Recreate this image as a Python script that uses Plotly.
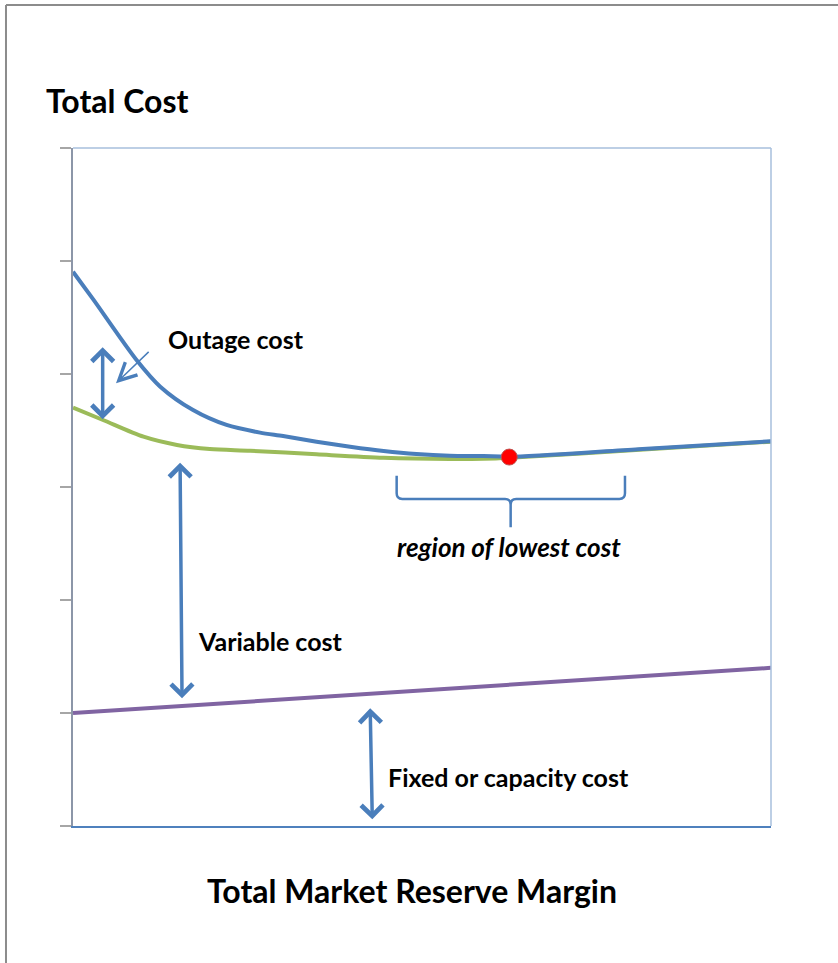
import plotly.graph_objects as go

# reserve margin (0-100 across the plot) and cost levels (0-6 on the y axis)
total_x = [0, 2.9, 9.1, 12.5, 17.2, 22.0, 26.8, 30.1, 34.9, 39.7, 44.5, 49.2,
           54.0, 58.8, 62.5, 81.0, 100]
total_y = [4.905, 4.66, 4.124, 3.888, 3.681, 3.549, 3.481, 3.451, 3.401, 3.357,
           3.319, 3.292, 3.277, 3.274, 3.268, 3.335, 3.405]

variable_x = [0, 4.3, 10.1, 14.9, 19.6, 25.4, 34.9, 44.5, 54.0, 58.8, 62.6,
              81.2, 100]
variable_y = [3.702, 3.593, 3.445, 3.372, 3.336, 3.321, 3.289, 3.259, 3.248,
              3.250, 3.259, 3.330, 3.401]

fixed_x = [0, 100]
fixed_y = [1.0, 1.40]

optimum_x = [62.5]
optimum_y = [3.265]

y_ticks = [0, 1, 2, 3, 4, 5, 6]

_BLUE = "#4a7ebb"
_GREEN = "#9bbb59"
_PURPLE = "#8064a2"
_FONT = "Lato, 'Open Sans', sans-serif"

fig = go.Figure()
fig.add_trace(go.Scatter(
    x=fixed_x, y=fixed_y, mode="lines",
    line=dict(color=_PURPLE, width=4),
))
fig.add_trace(go.Scatter(
    x=variable_x, y=variable_y, mode="lines",
    line=dict(color=_GREEN, width=4, shape="spline", smoothing=0.8),
))
fig.add_trace(go.Scatter(
    x=total_x, y=total_y, mode="lines",
    line=dict(color=_BLUE, width=4, shape="spline", smoothing=0.8),
))
fig.add_trace(go.Scatter(
    x=optimum_x, y=optimum_y, mode="markers",
    marker=dict(color="#ff0000", size=16, line=dict(color="#c0504d", width=1)),
))


def double_arrow(x0, y0, x1, y1):
    fig.add_annotation(
        x=x1, y=y1, ax=x0, ay=y0, xref="x", yref="y", axref="x", ayref="y",
        showarrow=True, arrowside="end+start", arrowhead=4, startarrowhead=4,
        arrowsize=1.2, startarrowsize=1.2, arrowwidth=3.5, arrowcolor=_BLUE,
        standoff=0, startstandoff=0,
    )


double_arrow(4.25, 4.325, 4.25, 3.599)
double_arrow(15.33, 3.304, 15.62, 1.13)
double_arrow(42.55, 1.13, 42.88, 0.059)

# thin pointer from the outage label
fig.add_annotation(
    x=6.16, y=3.918, ax=11.27, ay=4.221, xref="x", yref="y", axref="x",
    ayref="y", showarrow=True, arrowhead=5, arrowsize=2.3, arrowwidth=1.5,
    arrowcolor=_BLUE, standoff=0,
)

# brace under the flat part
xl, xc, xr = 46.37, 62.7, 79.08
yt, yh, yb = 3.10, 2.894, 2.644
rx, ry = 0.8, 0.05
brace = (
    f"M{xl},{yt} L{xl},{yh + ry} Q{xl},{yh} {xl + rx},{yh} "
    f"L{xc - rx},{yh} Q{xc},{yh} {xc},{yh - ry} L{xc},{yb} "
    f"M{xc},{yh - ry} Q{xc},{yh} {xc + rx},{yh} "
    f"L{xr - rx},{yh} Q{xr},{yh} {xr},{yh + ry} L{xr},{yt}"
)
fig.add_shape(type="path", path=brace, xref="x", yref="y",
              line=dict(color=_BLUE, width=2.5))

# plot frame: light blue top and right edges
fig.add_shape(type="line", xref="paper", yref="paper", x0=0, x1=1, y0=1, y1=1,
              line=dict(color="#a7bfdc", width=1.5))
fig.add_shape(type="line", xref="paper", yref="paper", x0=1, x1=1, y0=0, y1=1,
              line=dict(color="#a7bfdc", width=1.5))

# slide border on the top and left
fig.add_shape(type="line", xref="paper", yref="paper", x0=-0.096, x1=1.1,
              y0=1.211, y1=1.211, line=dict(color="#8c8c8c", width=2))
fig.add_shape(type="line", xref="paper", yref="paper", x0=-0.096, x1=-0.096,
              y0=-0.21, y1=1.211, line=dict(color="#8c8c8c", width=2))

labels = [
    dict(text="<b>Outage cost</b>", x=13.3, y=4.31, xanchor="left", size=25),
    dict(text="<b><i>region of lowest cost</i></b>", x=62.5, y=2.47,
         xanchor="center", size=26),
    dict(text="<b>Variable cost</b>", x=17.6, y=1.637, xanchor="left", size=25),
    dict(text="<b>Fixed or capacity cost</b>", x=44.8, y=0.436,
         xanchor="left", size=25),
]
for lab in labels:
    fig.add_annotation(
        text=lab["text"], x=lab["x"], y=lab["y"], xref="x", yref="y",
        xanchor=lab["xanchor"], yanchor="middle", showarrow=False,
        font=dict(family=_FONT, size=lab["size"], color="#000000"),
    )

fig.add_annotation(
    text="<b>Total Cost</b>", x=-0.042, y=1.07, xref="paper", yref="paper",
    xanchor="left", yanchor="middle", showarrow=False,
    font=dict(family=_FONT, size=32, color="#000000"),
)
fig.add_annotation(
    text="<b>Total Market Reserve Margin</b>", x=0.486, y=-0.095,
    xref="paper", yref="paper", xanchor="center", yanchor="middle",
    showarrow=False, font=dict(family=_FONT, size=32, color="#000000"),
)

fig.update_layout(
    width=838, height=963,
    margin=dict(l=73, r=67, t=148, b=137),
    paper_bgcolor="#ffffff", plot_bgcolor="#ffffff",
    showlegend=False,
)
fig.update_xaxes(
    range=[0, 100], showgrid=False, zeroline=False, showticklabels=False,
    showline=True, linecolor="#4f81bd", linewidth=1.5, ticks="",
)
fig.update_yaxes(
    range=[0, 6], tickvals=y_ticks, showgrid=False, zeroline=False,
    showticklabels=False, showline=True, linecolor="#8c96a8", linewidth=1.5,
    ticks="outside", ticklen=11, tickcolor="#a6a6a6", tickwidth=1.5,
)

fig.write_html("out.html", config={"displayModeBar": False},
               post_script="document.body.style.margin='0';")
